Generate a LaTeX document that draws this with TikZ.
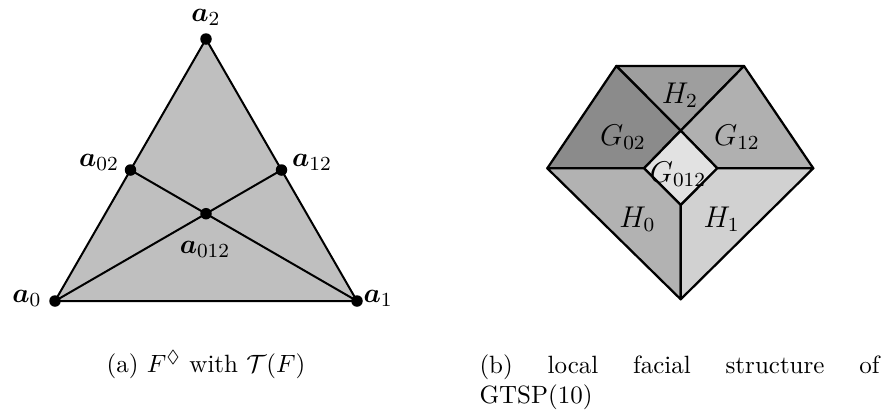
\documentclass[tikz,border=0pt]{standalone}
\usepackage{bm}
\usepackage{amssymb}
\begin{document}
\begin{tikzpicture}[x=0.4pt,y=-0.4pt,
  dot/.style={circle,fill=black,inner sep=0pt,minimum size=4.6pt},
  edge/.style={line width=0.8pt,line join=round},
  face/.style={draw=black,line width=0.9pt,line join=round},
  lbl/.style={inner sep=0pt,anchor=base},
  albl/.style={lbl,font=\fontsize{10.8}{13}\selectfont},
  flbl/.style={lbl,font=\fontsize{11.5}{14}\selectfont}]
\useasboundingbox (0,0) rectangle (882,414);
\definecolor{tri}{gray}{0.75}
\definecolor{cG02}{gray}{0.545}
\definecolor{cH2}{gray}{0.62}
\definecolor{cG12}{gray}{0.69}
\definecolor{cH0}{gray}{0.70}
\definecolor{cH1}{gray}{0.82}
\definecolor{cG012}{gray}{0.885}
% ---- left: triangle ----
\coordinate (p0) at (55,301);
\coordinate (p1) at (357,301);
\coordinate (p2) at (206,39);
\coordinate (p02) at (130.5,170);
\coordinate (p12) at (281.5,170);
\coordinate (p012) at (206,213.7);
\fill[tri] (p0) -- (p1) -- (p2) -- cycle;
\draw[edge] (p0) -- (p1) -- (p2) -- cycle;
\draw[edge] (p02) -- (p012) -- (p1);
\draw[edge] (p12) -- (p012) -- (p0);
\node[dot] (d0) at (p0) {};
\node[dot] (d1) at (p1) {};
\node[dot] (d2) at (p2) {};
\node[dot] (d02) at (p02) {};
\node[dot] (d12) at (p12) {};
\node[dot] (d012) at (p012) {};
\node[albl,anchor=base east] (l0) at (42,302) {$\bm{a}_0$};
\node[albl,anchor=base west] (l1) at (363,302) {$\bm{a}_1$};
\node[albl] (l2) at (206,21) {$\bm{a}_2$};
\node[albl] (l02) at (99,166) {$\bm{a}_{02}$};
\node[albl] (l12) at (312,166) {$\bm{a}_{12}$};
\node[albl] (l012) at (205,253) {$\bm{a}_{012}$};
% ---- right: local facial structure ----
\coordinate (TL) at (616.3,66);
\coordinate (TR) at (744,66);
\coordinate (C) at (680.7,130.7);
\coordinate (L) at (547.3,168.3);
\coordinate (R) at (813.3,168.3);
\coordinate (DL) at (644,168.3);
\coordinate (DR) at (717.3,168.3);
\coordinate (DB) at (680.7,205);
\coordinate (B) at (680.7,299.3);
\filldraw[face,fill=cH2] (TL) -- (TR) -- (C) -- cycle;
\filldraw[face,fill=cG02] (TL) -- (C) -- (DL) -- (L) -- cycle;
\filldraw[face,fill=cG12] (TR) -- (R) -- (DR) -- (C) -- cycle;
\filldraw[face,fill=cG012] (C) -- (DR) -- (DB) -- (DL) -- cycle;
\filldraw[face,fill=cH0] (L) -- (DL) -- (DB) -- (B) -- cycle;
\filldraw[face,fill=cH1] (DB) -- (DR) -- (R) -- (B) -- cycle;
\node[flbl] (tH2) at (680,103) {$H_2$};
\node[flbl] (tG02) at (623,145) {$G_{02}$};
\node[flbl] (tG12) at (737,145) {$G_{12}$};
\node[flbl] (tG012) at (678,182) {$G_{012}$};
\node[flbl] (tH0) at (637.5,227) {$H_0$};
\node[flbl] (tH1) at (721.7,227) {$H_1$};
% ---- captions ----
\node[lbl] (capa) at (206,372) {(a)\ $F^{\Diamond}$ with $\mathcal{T}(F)$};
\node[inner sep=0pt,anchor=north west,text width=160pt,align=justify] (capb) at (479,354.5)
  {(b) local facial structure of GTSP(10)};
\end{tikzpicture}
\end{document}
